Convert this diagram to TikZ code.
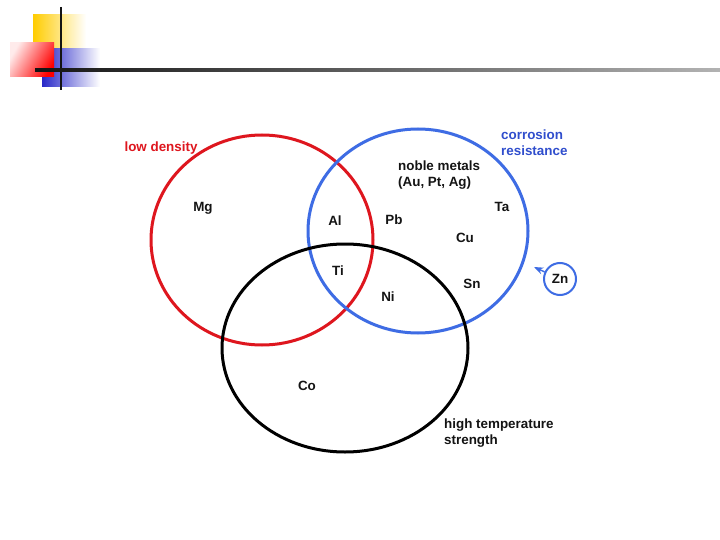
\documentclass[tikz,border=0pt]{standalone}
\usepackage{fontspec}
\setmainfont{Liberation Sans}
\usetikzlibrary{arrows.meta}
\definecolor{densc}{RGB}{222,22,30}
\definecolor{corrc}{RGB}{62,108,228}
\definecolor{corrtxt}{RGB}{48,78,205}
\definecolor{barc}{RGB}{255,204,0}
\definecolor{bluec}{RGB}{40,40,200}
\definecolor{inkc}{RGB}{20,20,20}

\begin{document}
\begin{tikzpicture}[x=1pt, y=-1pt, >=Stealth, font=\bfseries\fontsize{13.4}{16}\selectfont,
  setline/.style={line width=3pt},
  elem/.style={inkc}]
  \useasboundingbox[fill=white] (0,0) rectangle (720,540);

  % slide corner decoration
  \shade[left color=barc, right color=white] (33,15) rectangle (86,49);
  \shade[left color=bluec, right color=white] (42,49) rectangle (100,87);
  \shade[left color=red!8, right color=red, shading angle=60] (10,43) rectangle (54,77);
  \draw[inkc, line width=2.5pt] (61,7) -- (61,90);
  \shade[left color=inkc, right color=gray!60] (35,68.8) rectangle (720,71.2);

  % the three property sets
  \draw[densc, setline] (262,240) ellipse [x radius=111, y radius=105];
  \draw[corrc, setline] (418,231) ellipse [x radius=110, y radius=102];
  \draw[black, setline] (345,348) ellipse [x radius=123, y radius=104];

  % set labels
  \node[densc, anchor=west] (dens) at (121,148) {low density};
  \node[corrtxt, anchor=west, align=left, inner sep=1pt] (corr) at (500,143)
    {corrosion\\resistance};
  \node[elem, anchor=west, align=left, inner sep=1pt] (noble) at (397,175)
    {noble metals\\(Au, Pt, Ag)};
  \node[elem, anchor=west, align=left, inner sep=1pt] (hts) at (443,433)
    {high temperature\\strength};

  % elements
  \node[elem] (mg) at (203,208) {Mg};
  \node[elem] (al) at (335,221) {Al};
  \node[elem] (pb) at (394,220) {Pb};
  \node[elem] (ta) at (502,207) {Ta};
  \node[elem] (cu) at (465,238) {Cu};
  \node[elem] (ti) at (338,271) {Ti};
  \node[elem] (ni) at (388,297) {Ni};
  \node[elem] (sn) at (472,284) {Sn};
  \node[elem] (co) at (307,386) {Co};

  % outsider
  \node[elem, draw=corrc, circle, line width=2pt, minimum size=32pt, inner sep=0pt] (zn) at (560,279) {Zn};
  \coordinate (znend) at (534,267);
  \draw[->, corrc, line width=1.4pt] (zn) -- (znend);
\end{tikzpicture}
\end{document}
